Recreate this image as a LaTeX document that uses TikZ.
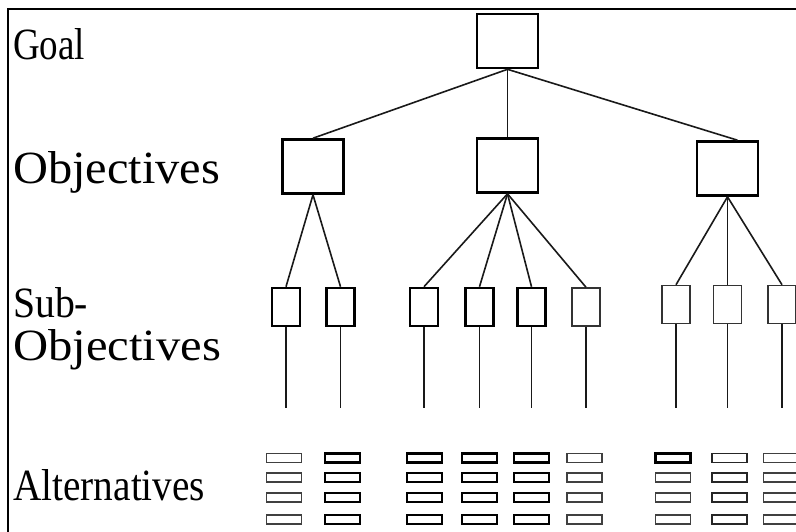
\documentclass[tikz,border=0pt]{standalone}
\usepackage{graphicx}
\usepackage{fontspec}
\setmainfont{Liberation Serif}
\begin{document}
\begin{tikzpicture}[x=1pt,y=-1pt,
  lbl/.style={anchor=base west, inner sep=0pt, font=\fontsize{40}{40}\selectfont},
  bigbox/.style={draw, rectangle, inner sep=0pt, line width=2.6pt, minimum width=61pt, minimum height=54pt},
  subbox/.style={draw, rectangle, inner sep=0pt, line width=2.6pt, minimum width=28pt, minimum height=38pt},
  subthin/.style={subbox, line width=1.5pt, draw=black!80},
  alt/.style={draw, rectangle, inner sep=0pt, minimum width=35pt, minimum height=9pt},
  altthick/.style={alt, line width=2.6pt},
  altmid/.style={alt, line width=1.9pt, draw=black!85},
  altthin/.style={alt, line width=1.4pt, draw=black!75},
  conn/.style={line width=1.6pt, draw=black!90}]
\useasboundingbox (0,0) rectangle (796,531);
\clip (0,0) rectangle (796,531);
% frame
\draw[line width=2pt] (8,545) -- (8,8.5) -- (810,8.5);
% labels
\node[lbl] (tgoal) at (13,59) {\resizebox{72pt}{31pt}{Goal}};
\node[lbl] (tobj) at (13,183) {\resizebox{207pt}{32pt}{Objectives}};
\node[lbl] (tsub) at (13,317) {\resizebox{75pt}{30pt}{Sub-}};
\node[lbl] (tsubobj) at (13,360) {\resizebox{208pt}{31pt}{Objectives}};
\node[lbl] (talt) at (13,500) {\resizebox{192pt}{31pt}{Alternatives}};
% goal and objectives
\node[bigbox] (goal) at (507.5,41) {};
\node[bigbox] (o1) at (313,166.5) {};
\node[bigbox] (o2) at (507.5,165.5) {};
\node[bigbox] (o3) at (727.5,168.5) {};
\draw[conn] (goal.south) -- (o1.north);
\draw[conn] (goal.south) -- (o2.north);
\draw[conn] (goal.south) -- ([xshift=10pt]o3.north);
% sub-objectives
\node[subbox] (s1) at (286,307) {};
\node[subbox] (s2) at (340.5,307) {};
\node[subbox] (s3) at (424,307) {};
\node[subbox] (s4) at (479.5,307) {};
\node[subbox] (s5) at (531.5,307) {};
\node[subthin] (s6) at (586,307) {};
\node[subthin] (s7) at (676,304.5) {};
\node[subthin] (s8) at (727.5,304.5) {};
\node[subthin] (s9) at (782,304.5) {};
\foreach \s in {s1,s2} \draw[conn] (o1.south) -- (\s.north);
\foreach \s in {s3,s4,s5,s6} \draw[conn] (o2.south) -- (\s.north);
\foreach \s in {s7,s8,s9} \draw[conn] (o3.south) -- (\s.north);
\foreach \s in {s1,s2,s3,s4,s5,s6,s7,s8,s9} {
  \coordinate (e\s) at (\s |- 0,408);
  \draw[conn] (\s.south) -- (e\s);
}
% alternatives
\foreach \c/\x/\st in {1/284/altthin,2/342.5/altthick,3/424.5/altthick,4/479.5/altthick,5/531.5/altthick,6/584.5/altthin,8/729.5/altmid,9/781/altthin} {
  \foreach \r/\y in {1/458,2/477.5,3/497.5,4/519.5} {
    \node[\st] (a\c\r) at (\x,\y) {};
  }
}
\node[altthick] (a71) at (673,458) {};
\node[altthin] (a72) at (673,477.5) {};
\node[altthin] (a73) at (673,497.5) {};
\node[altthin] (a74) at (673,519.5) {};
\end{tikzpicture}
\end{document}
